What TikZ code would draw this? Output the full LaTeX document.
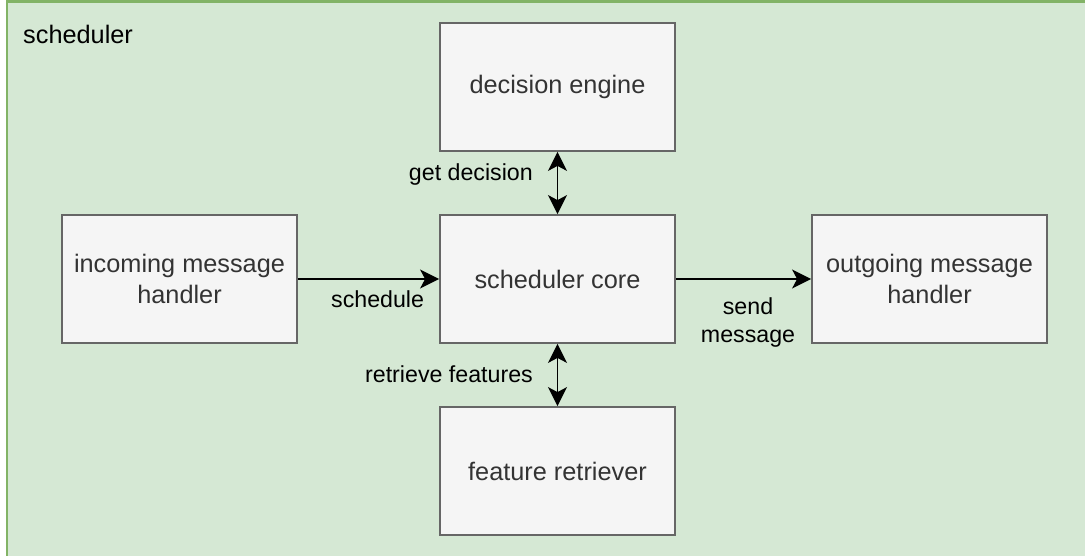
\documentclass[tikz,border=0pt]{standalone}
\usepackage{fontspec}
\setmainfont{Liberation Sans}
\usetikzlibrary{arrows.meta}
\definecolor{groupfill}{HTML}{D5E8D4}
\definecolor{groupline}{HTML}{82B366}
\definecolor{boxfill}{HTML}{F5F5F5}
\definecolor{boxline}{HTML}{666666}
\definecolor{boxtext}{HTML}{333333}
\tikzset{
  component/.style={draw=boxline, fill=boxfill, line width=1.8pt,
    minimum width=235pt, minimum height=128pt, inner sep=0pt,
    text=boxtext, align=center, font=\fontsize{25.3}{30.4}\selectfont},
  flow/.style={line width=1.9pt, draw=black},
  edgelabel/.style={font=\fontsize{23.2}{28}\selectfont, inner sep=0pt,
    align=center, text=black},
  grouplabel/.style={font=\fontsize{25.3}{30.4}\selectfont, inner sep=0pt,
    text=black},
  >={Stealth[length=19pt,width=19pt,inset=5pt]}
}
\begin{document}
\begin{tikzpicture}[x=1pt,y=-1pt]
  \clip (0,0) rectangle (1085,555);
  \useasboundingbox (0,0) rectangle (1085,555);

  % enclosing scheduler group
  \draw[groupline, fill=groupfill, line width=2.2pt] (7,1.5) rectangle (1100,570);
  \node[grouplabel, anchor=base west] (grp) at (23,43) {scheduler};

  % components
  \node[component] (core) at (557.5,279) {scheduler core};
  \node[component] (inc)  at (179.5,279) {incoming message\\handler};
  \node[component] (out)  at (929.5,279) {outgoing message\\handler};
  \node[component] (dec)  at (557.5,87)  {decision engine};
  \node[component] (feat) at (557.5,471) {feature retriever};

  % connectors
  \draw[flow, ->] (inc.east) -- (core.west);
  \draw[flow, ->] (core.east) -- (out.west);
  \draw[flow, <->] (dec.south) -- (core.north);
  \draw[flow, <->] (core.south) -- (feat.north);

  % connector labels
  \node[edgelabel, anchor=base west] (lsched) at (331,307) {schedule};
  \node[edgelabel] (lsend) at (748,322) {send\\message};
  \node[edgelabel, anchor=base east] (ldec) at (533,180) {get decision};
  \node[edgelabel, anchor=base east] (lfeat) at (533,382) {retrieve features};
\end{tikzpicture}
\end{document}
